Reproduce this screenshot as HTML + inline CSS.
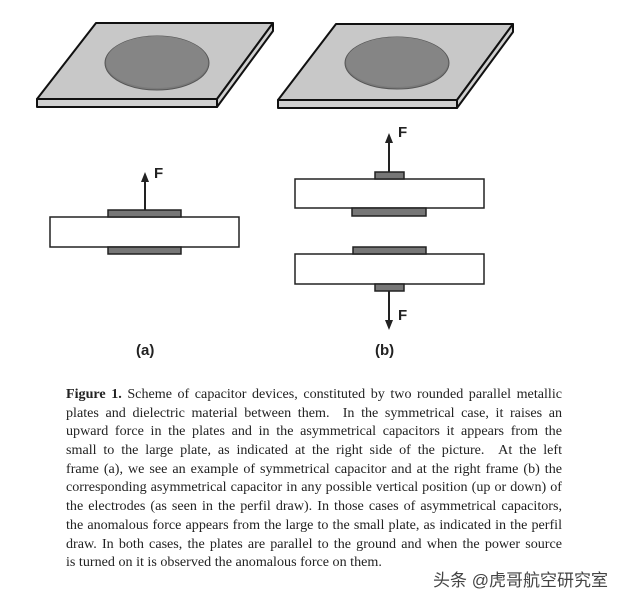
<!DOCTYPE html>
<html><head><meta charset="utf-8"><style>
body{margin:0;background:#fff;width:640px;height:599px;overflow:hidden;position:relative}
.cap{position:absolute;left:66px;top:385px;width:496px;font-family:"Liberation Serif",serif;font-size:14.1px;line-height:18.7px;color:#222}
.cap div{text-align:justify;text-align-last:justify;white-space:nowrap;height:18.7px}
.cap div.l{text-align-last:left}
.wm{position:absolute;left:433px;top:566px;font-family:"Liberation Sans","Noto Sans CJK SC",sans-serif;font-size:17px;color:#444}
</style></head><body>
<svg width="640" height="380" style="position:absolute;left:0;top:0" font-family="Liberation Sans,sans-serif">
<g stroke="#111" stroke-width="2" stroke-linejoin="round">
<polygon points="96,23 273,23 217,99 37,99" fill="#c8c8c8"/>
<polygon points="37,99 217,99 217,107 37,107" fill="#d0d0d0"/>
<polygon points="217,99 273,23 273,31 217,107" fill="#d0d0d0"/>
<polygon points="336,24 513,24 457,100 278,100" fill="#c8c8c8"/>
<polygon points="278,100 457,100 457,108 278,108" fill="#d0d0d0"/>
<polygon points="457,100 513,24 513,32 457,108" fill="#d0d0d0"/>
</g>
<ellipse cx="157" cy="63" rx="52" ry="27" fill="#7a7a7a" stroke="#555" stroke-width="1"/>
<ellipse cx="157" cy="62" rx="51" ry="26" fill="#858585"/>
<ellipse cx="397" cy="63" rx="52" ry="26" fill="#7a7a7a" stroke="#555" stroke-width="1"/>
<ellipse cx="397" cy="62" rx="51" ry="25" fill="#858585"/>
<g stroke="#222" stroke-width="1.5">
<rect x="50" y="217" width="189" height="30" fill="#fff"/>
<rect x="108" y="210" width="73" height="7" fill="#777"/>
<rect x="108" y="247" width="73" height="7" fill="#777"/>
<rect x="295" y="179" width="189" height="29" fill="#fff"/>
<rect x="375" y="172" width="29" height="7" fill="#777"/>
<rect x="352" y="208" width="74" height="8" fill="#777"/>
<rect x="295" y="254" width="189" height="30" fill="#fff"/>
<rect x="353" y="247" width="73" height="7" fill="#777"/>
<rect x="375" y="284" width="29" height="7" fill="#777"/>
<line x1="145" y1="210" x2="145" y2="180" stroke-width="2"/>
<line x1="389" y1="172" x2="389" y2="141" stroke-width="2"/>
<line x1="389" y1="291" x2="389" y2="322" stroke-width="2"/>
</g>
<g fill="#222">
<polygon points="141,182 149,182 145,172"/>
<polygon points="385,143 393,143 389,133"/>
<polygon points="385,320 393,320 389,330"/>
</g>
<g font-weight="bold" font-size="15" fill="#222">
<text x="154" y="178">F</text>
<text x="398" y="137">F</text>
<text x="398" y="320">F</text>
<text x="136" y="355">(a)</text>
<text x="375" y="355">(b)</text>
</g>
</svg>
<div class="cap">
<div><b>Figure 1.</b> Scheme of capacitor devices, constituted by two rounded parallel metallic</div>
<div>plates and dielectric material between them. &nbsp;In the symmetrical case, it raises an</div>
<div>upward force in the plates and in the asymmetrical capacitors it appears from the</div>
<div>small to the large plate, as indicated at the right side of the picture. &nbsp;At the left</div>
<div>frame (a), we see an example of symmetrical capacitor and at the right frame (b) the</div>
<div>corresponding asymmetrical capacitor in any possible vertical position (up or down) of</div>
<div>the electrodes (as seen in the perfil draw). In those cases of asymmetrical capacitors,</div>
<div>the anomalous force appears from the large to the small plate, as indicated in the perfil</div>
<div>draw. In both cases, the plates are parallel to the ground and when the power source</div>
<div class="l">is turned on it is observed the anomalous force on them.</div>
</div>
<div class="wm">头条 @虎哥航空研究室</div>
</body></html>
